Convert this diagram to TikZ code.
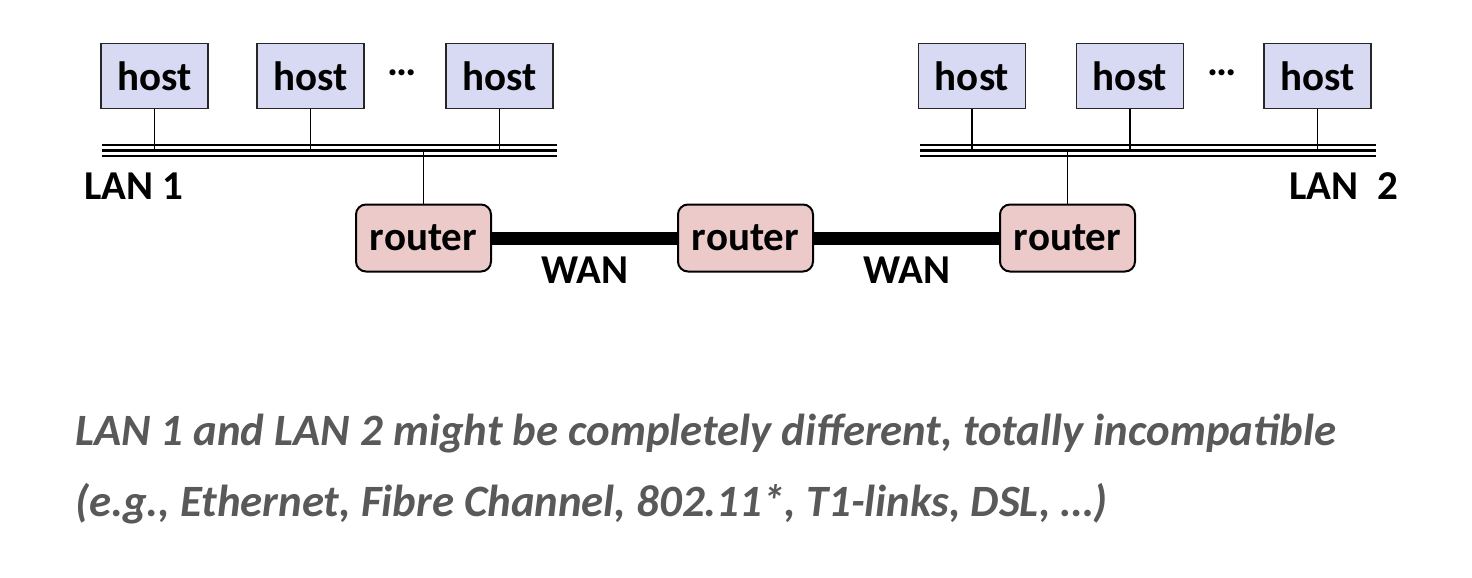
\documentclass[tikz,border=0pt]{standalone}
\usepackage{fontspec}
\setmainfont{Carlito}
\definecolor{hostfill}{RGB}{216,217,242}
\definecolor{routerfill}{RGB}{236,202,202}
\definecolor{notegray}{RGB}{89,89,89}
\begin{document}
\begin{tikzpicture}[x=1pt,y=-1pt,
  hostbox/.style={draw=black!85, line width=1.4pt, fill=hostfill, minimum width=107pt, minimum height=65pt, inner sep=0pt, font=\fontsize{41}{48}\selectfont\bfseries},
  routerbox/.style={draw=black, line width=2pt, fill=routerfill, rounded corners=10pt, minimum width=135pt, minimum height=67pt, inner sep=0pt, font=\fontsize{41}{48}\selectfont\bfseries},
  lbl/.style={font=\fontsize{41}{48}\selectfont\bfseries, inner sep=0pt},
  wire/.style={line width=1.3pt},
  wan/.style={line width=13pt},
  note/.style={font=\fontsize{44.8}{52}\selectfont\bfseries\itshape, text=notegray, inner sep=0pt, anchor=base west}]
\useasboundingbox (0,0) rectangle (1472,578);
% LAN 1 hosts
\node[hostbox] (h1) at (154.5,76) {host};
\node[hostbox] (h2) at (310.5,76) {host};
\node[hostbox] (h3) at (499.5,76) {host};
\node[lbl, anchor=base] (d1) at (402,76) {…};
% LAN 2 hosts
\node[hostbox] (h4) at (972,76) {host};
\node[hostbox] (h5) at (1130,76) {host};
\node[hostbox] (h6) at (1317.5,76) {host};
\node[lbl, anchor=base] (d2) at (1222,76) {…};
% buses
\coordinate (b1L) at (102,150.5);
\coordinate (b1R) at (557,150.5);
\coordinate (b2L) at (920,150.5);
\coordinate (b2R) at (1376,150.5);
\foreach \a/\b in {b1L/b1R,b2L/b2R}{
  \draw[line width=1.6pt] ([yshift=5.5pt]\a) -- ([yshift=5.5pt]\b);
  \draw[line width=2.3pt] (\a) -- (\b);
  \draw[line width=2.3pt] ([yshift=-5.5pt]\a) -- ([yshift=-5.5pt]\b);
}
\foreach \h in {h1,h2,h3,h4,h5,h6}{
  \draw[wire] (\h.south) -- (\h.south |- b1L);
}
% routers
\node[routerbox] (r1) at (423.5,238) {router};
\node[routerbox] (r2) at (745.5,238) {router};
\node[routerbox] (r3) at (1067.5,238) {router};
\draw[wire] (r1.north) -- (r1.north |- b1L);
\draw[wire] (r3.north) -- (r3.north |- b2L);
\draw[wan] (r1.east) -- (r2.west);
\draw[wan] (r2.east) -- (r3.west);
% labels
\node[lbl, anchor=base west] (lan1) at (84,199) {LAN 1};
\node[lbl, anchor=base east] (lan2) at (1398,199) {LAN\hspace{0.45em}2};
\node[lbl] (w1) at (585,270) {WAN};
\node[lbl] (w2) at (907,270) {WAN};
% note
\node[note] (n1) at (75,445) {LAN 1 and LAN 2 might be completely different, totally incompatible};
\node[note] (n2) at (75,516) {(e.g., Ethernet, Fibre Channel, 802.11*, T1-links, DSL, …)};
\end{tikzpicture}
\end{document}
